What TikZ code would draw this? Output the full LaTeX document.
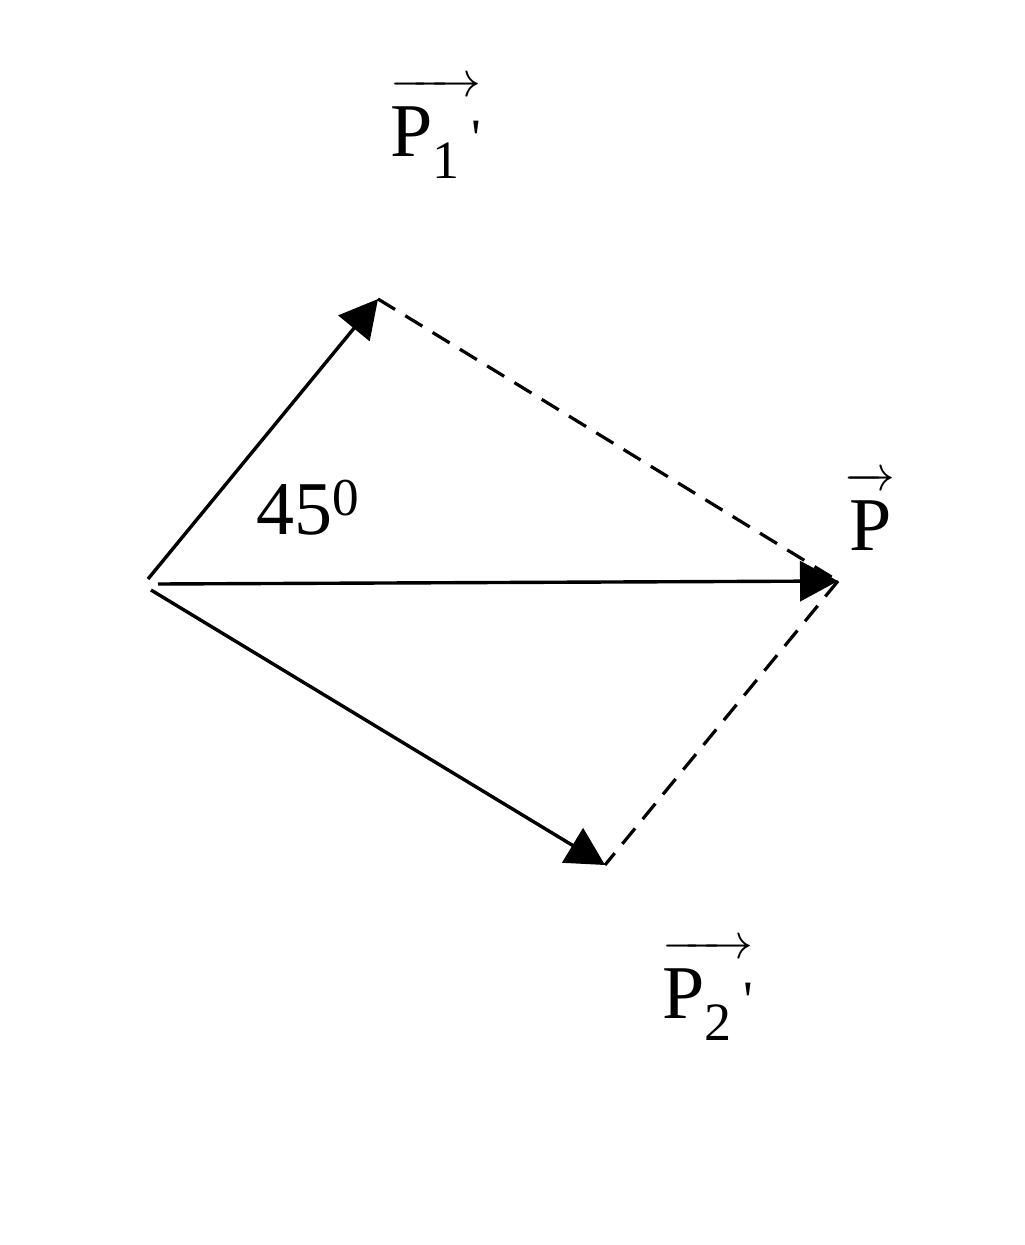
\documentclass[tikz,border=0pt]{standalone}
\usepackage{fontspec}
\setmainfont{Liberation Serif}
\usetikzlibrary{arrows.meta}
\newcommand{\vlbl}[1]{$\overrightarrow{\hbox{\rule{0pt}{31pt}#1}}$}
\newcommand{\subd}[1]{\raisebox{-11pt}{\fontsize{27}{27}\selectfont #1}}
\newcommand{\prm}{\hspace{6pt}{\fontsize{27}{27}\selectfont\textquotesingle}}
\begin{document}
\begin{tikzpicture}[x=0.5pt,y=-0.5pt,
  vec/.style={line width=1.7pt,-{Triangle[length=19pt,width=20pt]}},
  dsh/.style={line width=1.6pt,dash pattern=on 10pt off 6pt},
  lbl/.style={font=\fontsize{38}{40}\selectfont,inner sep=0pt,anchor=base west}]
\useasboundingbox (0,0) rectangle (1024,1245);
\coordinate (O1) at (148,579);
\coordinate (O2) at (158,584);
\coordinate (O3) at (151,590);
\coordinate (A) at (378,299);
\coordinate (B) at (838,581);
\coordinate (C) at (605,865);
\draw[vec] (O1) -- (A);
\draw[vec] (O2) -- (B);
\draw[vec] (O3) -- (C);
\draw[dsh] (A) -- (B);
\draw[dsh] (B) -- (C);
\node[lbl] (l1) at (390,157) {\vlbl{P\subd{1}\prm}};
\node[lbl] (lp) at (845,550) {\vlbl{P}};
\node[lbl] (l2) at (662,1018) {\vlbl{P\subd{2}\prm}};
\node[lbl] (ang) at (256,534) {45\textsuperscript{0}};
\end{tikzpicture}
\end{document}
